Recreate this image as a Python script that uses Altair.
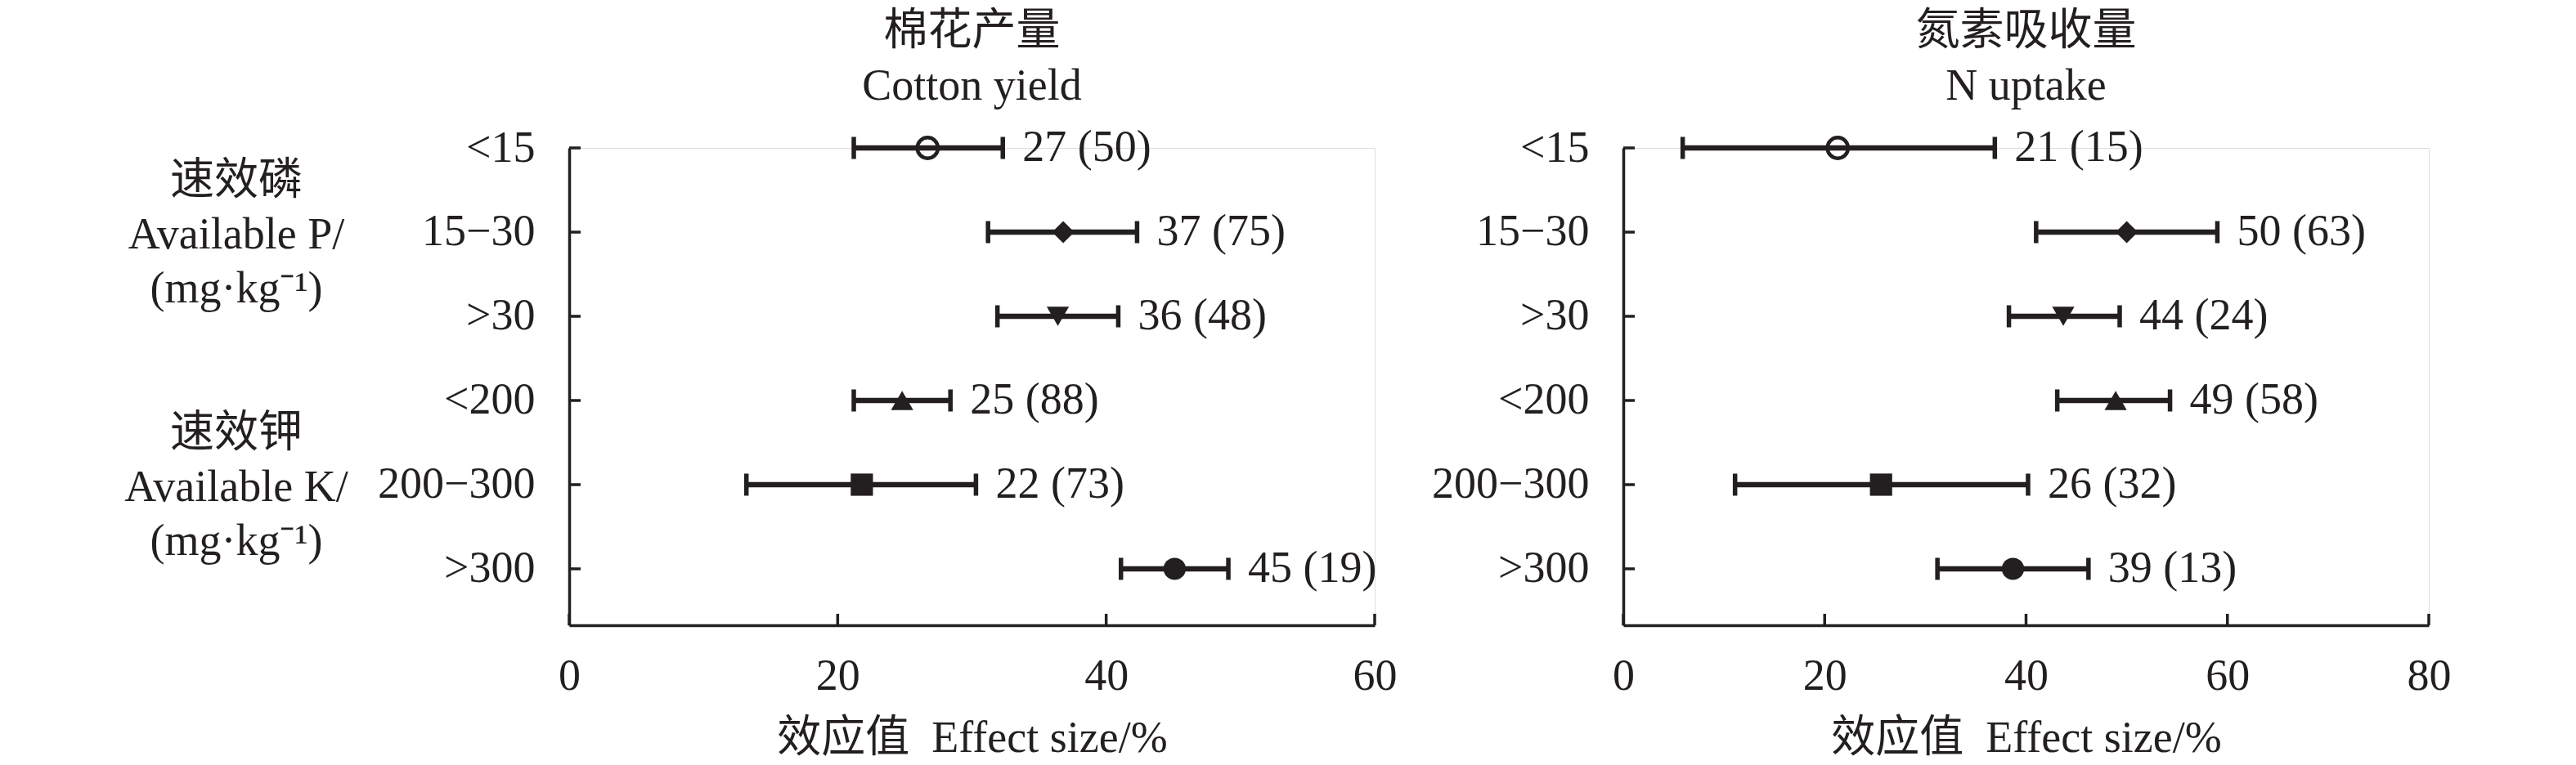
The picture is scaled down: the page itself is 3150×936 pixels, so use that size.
import json
import altair as alt
import pandas as pd

# ---------------- data ----------------
categories = ["<15", "15−30", ">30", "<200", "200−300", ">300"]
markers = ["open-circle", "diamond", "triangle-down", "triangle-up", "square", "filled-circle"]
rows = [0, 1, 2, 3, 4, 5]

yield_mean = [26.7, 36.8, 36.4, 24.8, 21.8, 45.1]
yield_lower = [21.2, 31.2, 31.9, 21.2, 13.2, 41.1]
yield_upper = [32.3, 42.3, 40.9, 28.4, 30.3, 49.1]
yield_labels = ["27 (50)", "37 (75)", "36 (48)", "25 (88)", "22 (73)", "45 (19)"]

n_mean = [21.3, 50.0, 43.7, 48.9, 25.6, 38.7]
n_lower = [5.9, 41.0, 38.3, 43.1, 11.1, 31.2]
n_upper = [36.9, 59.0, 49.3, 54.3, 40.2, 46.2]
n_labels = ["21 (15)", "50 (63)", "44 (24)", "49 (58)", "26 (32)", "39 (13)"]

group_text = ["速效磷", "Available P/", "(mg·kg⁻¹)", "速效钾", "Available K/", "(mg·kg⁻¹)"]
group_row = [1, 1, 1, 4, 4, 4]
group_line = [0, 1, 2, 0, 1, 2]

yield_ticks = [0, 20, 40, 60]
n_ticks = [0, 20, 40, 60, 80]

titles_yield = ["棉花产量", "Cotton yield"]
titles_n = ["氮素吸收量", "N uptake"]
x_title = "效应值\u00a0 Effect size/%"

shape_range = ["circle", "diamond", "triangle-down", "triangle-up", "square", "circle"]

# ---------------- style ----------------
INK = "#231f20"
FONT = "Liberation Serif, Noto Sans CJK SC"
FS = 54
W, H = 985, 584
line_dy = [-46, 20, 86]

label_expr = "[" + ",".join(json.dumps(c, ensure_ascii=False) for c in categories) + "][datum.value]"


def panel(mean, lower, upper, labels, ticks, title_lines, with_groups):
    df = pd.DataFrame({
        "row": rows, "cat": categories, "marker": markers,
        "mean": mean, "lower": lower, "upper": upper, "label": labels,
    })
    xs = alt.Scale(domain=[ticks[0], ticks[-1]], nice=False, zero=True)
    ys = alt.Scale(domain=[0, 5.67], reverse=True, nice=False, zero=False)
    xaxis = alt.Axis(values=ticks, title=x_title, ticks=False, tickSize=0, grid=False,
                     labelPadding=35, titlePadding=22, format="d",
                     domainColor=INK, domainWidth=3.5, labelColor=INK, titleColor=INK,
                     labelFont=FONT, labelFontSize=FS, titleFont=FONT, titleFontSize=FS,
                     titleFontWeight="normal", labelFlush=False, labelOverlap=False,
                     labelLimit=0, titleLimit=0)
    yaxis = alt.Axis(values=rows, labelExpr=label_expr, title=None, ticks=False, tickSize=0,
                     grid=False, labelPadding=42, domainColor=INK, domainWidth=3.5,
                     labelColor=INK, labelFont=FONT, labelFontSize=FS, labelBaseline="middle",
                     labelFlush=False, labelOverlap=False, labelLimit=0)
    base = alt.Chart(df)
    bars = base.mark_rule(color=INK, strokeWidth=6.5, opacity=1).encode(
        x=alt.X("lower:Q", scale=xs, axis=xaxis),
        x2="upper:Q",
        y=alt.Y("row:Q", scale=ys, axis=yaxis),
    )
    cap_lo = base.mark_tick(orient="vertical", size=27, thickness=5.5, color=INK, opacity=1).encode(
        x="lower:Q", y="row:Q")
    cap_hi = base.mark_tick(orient="vertical", size=27, thickness=5.5, color=INK, opacity=1).encode(
        x="upper:Q", y="row:Q")
    filled = base.transform_filter("datum.marker != 'open-circle'").mark_point(
        filled=True, color=INK, opacity=1, size=740, strokeWidth=0).encode(
        x="mean:Q", y="row:Q",
        shape=alt.Shape("marker:N", scale=alt.Scale(domain=markers, range=shape_range), legend=None),
    )
    hollow = base.transform_filter("datum.marker == 'open-circle'").mark_point(
        filled=False, shape="circle", color=INK, opacity=1, size=640, strokeWidth=4.5).encode(
        x="mean:Q", y="row:Q")
    text = base.mark_text(align="left", baseline="middle", dx=24, font=FONT, fontSize=FS,
                          color=INK).encode(x="upper:Q", y="row:Q", text="label:N")
    # inward ticks
    ytick = alt.Chart(pd.DataFrame({"row": rows})).mark_rule(color=INK, strokeWidth=3.5).encode(
        y="row:Q", x=alt.value(0), x2=alt.value(14))
    xtick = alt.Chart(pd.DataFrame({"t": ticks})).mark_rule(color=INK, strokeWidth=3.5).encode(
        x="t:Q", y=alt.value(H), y2=alt.value(H - 14))
    layers = [bars, cap_lo, cap_hi, hollow, filled, text, ytick, xtick]
    if with_groups:
        gdf = pd.DataFrame({"row": group_row, "line": group_line, "text": group_text})
        for i, d in enumerate(line_dy):
            layers.append(
                alt.Chart(gdf).transform_filter(f"datum.line == {i}").mark_text(
                    align="center", baseline="alphabetic", dy=d, font=FONT, fontSize=FS, color=INK
                ).encode(y="row:Q", x=alt.value(-407), text="text:N")
            )
    return alt.layer(*layers).properties(
        width=W, height=H,
        title=alt.TitleParams(text=title_lines, font=FONT, fontSize=FS, fontWeight="normal",
                              color=INK, lineHeight=67, baseline="bottom", offset=-33,
                              anchor="middle"),
    ).resolve_scale(shape="independent")


left = panel(yield_mean, yield_lower, yield_upper, yield_labels, yield_ticks, titles_yield, True)
right = panel(n_mean, n_lower, n_upper, n_labels, n_ticks, titles_n, False)

chart = alt.hconcat(left, right, spacing=41).properties(
    padding={"left": 143, "top": 3, "right": 5, "bottom": 0},
).configure_view(stroke=None).configure(background="white")

chart.save("out.html", embed_options={"renderer": "svg", "actions": False})
